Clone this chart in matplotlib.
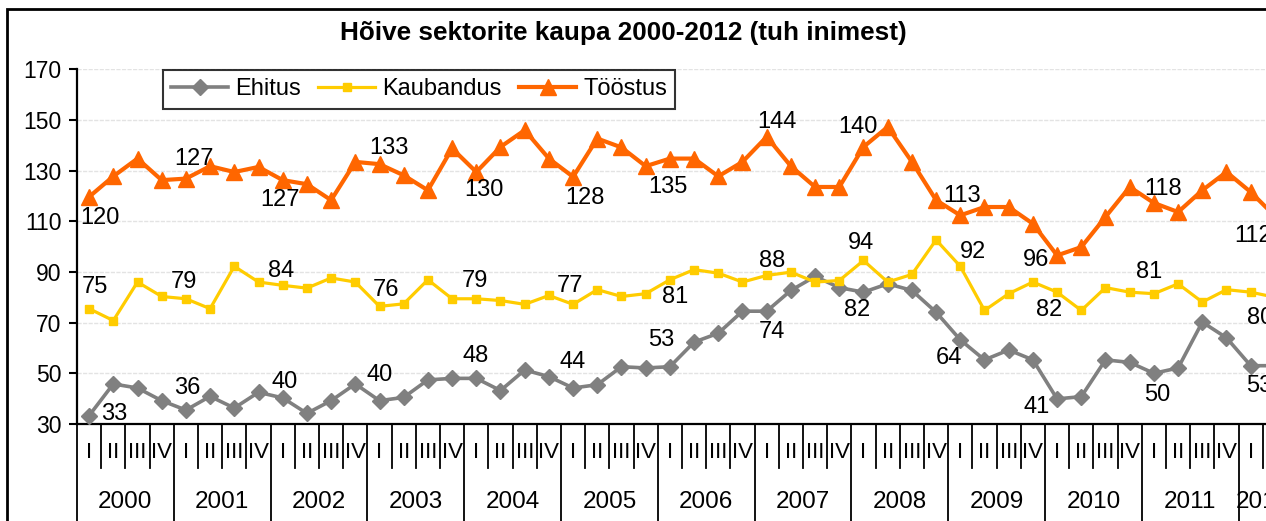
import matplotlib
matplotlib.use("Agg")
import matplotlib.pyplot as plt
import matplotlib.transforms as mtransforms
from matplotlib.patches import Rectangle

plt.rcParams['font.family'] = ['Liberation Sans', 'DejaVu Sans']

# ---------------- data ----------------
years = ["2000", "2001", "2002", "2003", "2004", "2005", "2006",
         "2007", "2008", "2009", "2010", "2011", "2012"]
quarters = ["I", "II", "III", "IV"]

ehitus = [33.3, 45.8, 44.2, 39.2, 35.5, 40.9, 36.3, 42.5, 40.3, 34.2,
          39.2, 45.8, 39.2, 40.5, 47.4, 48.0, 48.0, 43.2, 51.3, 48.7,
          44.2, 45.5, 52.6, 52.1, 52.6, 62.3, 65.8, 74.5, 74.5, 82.7,
          88.2, 83.8, 82.0, 85.3, 82.7, 74.1, 63.2, 55.3, 59.2, 55.3,
          39.9, 40.8, 55.3, 54.3, 50.0, 52.1, 70.2, 64.0, 53.0, 53.0]
kaubandus = [75.5, 70.8, 86.0, 80.3, 79.4, 75.5, 92.2, 86.0, 84.7, 83.6,
             87.6, 86.0, 76.4, 77.4, 86.9, 79.4, 79.4, 78.7, 77.2, 80.7,
             77.2, 83.0, 80.3, 81.4, 86.9, 90.9, 89.5, 86.0, 88.6, 89.9,
             86.0, 86.6, 94.5, 86.0, 89.0, 102.6, 92.2, 74.8, 81.4, 86.0,
             82.0, 74.8, 83.8, 82.0, 81.4, 85.3, 78.1, 83.0, 82.0, 80.0]
toostus = [119.6, 127.7, 134.7, 126.2, 126.8, 131.7, 129.4, 131.4, 126.2, 124.6,
           118.3, 133.4, 132.5, 128.1, 122.2, 138.7, 129.4, 139.3, 145.9, 134.7,
           127.5, 142.6, 139.1, 131.7, 134.7, 134.7, 127.7, 133.4, 143.3, 131.7,
           123.5, 123.5, 139.3, 147.2, 133.4, 118.3, 112.3, 115.6, 115.6, 109.0,
           96.5, 99.8, 111.7, 123.5, 117.2, 113.6, 122.2, 129.4, 121.5, 112.0]

# data labels: (point index, text)
ehitus_labels = [(0, "33"), (4, "36"), (8, "40"), (12, "40"), (16, "48"), (20, "44"),
                 (24, "53"), (28, "74"), (32, "82"), (36, "64"), (40, "41"),
                 (44, "50"), (48, "53")]
kaubandus_labels = [(0, "75"), (4, "79"), (8, "84"), (12, "76"), (16, "79"), (20, "77"),
                    (24, "81"), (28, "88"), (32, "94"), (36, "92"), (40, "82"),
                    (44, "81"), (49, "80")]
toostus_labels = [(0, "120"), (4, "127"), (8, "127"), (12, "133"), (16, "130"),
                  (20, "128"), (24, "135"), (28, "144"), (32, "140"), (36, "113"),
                  (40, "96"), (44, "118"), (49, "112")]

# ---------------- style / layout ----------------
# label offsets in pixels (dx right, dy up)
ehitus_off = [(25, 2), (1, 22), (2, 16), (0, 26), (-1, 22), (0, 26), (-9, 27),
              (5, -21), (-6, -18), (-11, -18), (-20, -8), (3, -22), (9, -20)]
kaubandus_off = [(6, 22), (-2, 17), (-2, 14), (7, 16), (-1, 18), (-3, 18), (5, -17),
                 (5, 14), (-2, 17), (13, 14), (-8, -18), (-5, 22), (-15, -21)]
toostus_off = [(11, -21), (8, 20), (-3, -20), (9, 16), (8, -18), (12, -21), (-2, -28),
               (10, 15), (-6, 20), (2, 19), (-21, -5), (9, 14), (-22, -20)]

W, H = 1266, 521
fig = plt.figure(figsize=(W / 100, H / 100), dpi=100)

ax_left, ax_bottom_px, ax_top_px = 77, 424, 69.1
qw = 24.2
n = len(toostus)
ax = fig.add_axes([ax_left / W, (H - ax_bottom_px) / H,
                   n * qw / W, (ax_bottom_px - ax_top_px) / H])

x = list(range(n))
c_e, c_k, c_t = "#808080", "#FFCC00", "#FF6600"
l_e, = ax.plot(x, ehitus, color=c_e, lw=2.6, marker="D", ms=8, zorder=3,
               label="Ehitus")
l_k, = ax.plot(x, kaubandus, color=c_k, lw=2.3, marker="s", ms=6, zorder=4,
               label="Kaubandus")
l_t, = ax.plot(x, toostus, color=c_t, lw=3.0, marker="^", ms=11, zorder=5,
               label="Tööstus")

fs_lab = 17
for labels, offs, vals in ((ehitus_labels, ehitus_off, ehitus),
                           (kaubandus_labels, kaubandus_off, kaubandus),
                           (toostus_labels, toostus_off, toostus)):
    for (i, t), (dx, dy) in zip(labels, offs):
        ax.annotate(t, (i, vals[i]), xytext=(dx, dy), textcoords="offset pixels",
                    ha="center", va="center", fontsize=fs_lab, color="black",
                    zorder=6, annotation_clip=False)

ax.set_xlim(-0.5, n - 0.5)
ax.set_ylim(30, 170)
ax.set_yticks(range(30, 171, 20))
ax.tick_params(axis="y", direction="out", length=6, width=1.5, labelsize=16.5, pad=5)
ax.set_xticks([])
for s in ("top", "right"):
    ax.spines[s].set_visible(False)
for s in ("left", "bottom"):
    ax.spines[s].set_linewidth(1.6)
ax.yaxis.grid(True, color="#E3E3E3", lw=1.0, linestyle=(0, (3, 1)))
ax.set_axisbelow(True)

# multi-level category axis
trans = mtransforms.blended_transform_factory(ax.transData, ax.transAxes)
ax_h = ax_bottom_px - ax_top_px
q_end = -(468 - ax_bottom_px) / ax_h
y_end = -(540 - ax_bottom_px) / ax_h
q_lab = -(453 - ax_bottom_px) / ax_h
y_lab = -(502 - ax_bottom_px) / ax_h
for j in range(n + 1):
    xb = j - 0.5
    yb = y_end if (j % 4 == 0 or j == n) else q_end
    ax.plot([xb, xb], [0, yb], color="black", lw=1.3, transform=trans,
            clip_on=False, zorder=7)
for i in range(n):
    ax.text(i, q_lab, quarters[i % 4], transform=trans, ha="center", va="center",
            fontsize=16, clip_on=False)
for yi, yname in enumerate(years):
    start = yi * 4
    end = min(start + 3, n - 1)
    ax.text((start + end) / 2, y_lab, yname, transform=trans, ha="center",
            va="center", fontsize=17.5, clip_on=False)

# title
fig.text(623 / W, 1 - 33 / H, "Hõive sektorite kaupa 2000-2012 (tuh inimest)",
         ha="center", va="center", fontsize=18.8, fontweight="bold")

# legend
leg = fig.legend(handles=[l_e, l_k, l_t], loc="upper left",
                 bbox_to_anchor=(163 / W, 1 - 70 / H), ncol=3, fontsize=17,
                 frameon=True, fancybox=False, edgecolor="black",
                 handlelength=2.4, handletextpad=0.3, columnspacing=0.75,
                 borderpad=0.35, borderaxespad=0)
leg.get_frame().set_linewidth(1.5)

# outer chart border
fig.patches.append(Rectangle((7 / W, -0.2), 1.5, 1.2 - 9 / H, transform=fig.transFigure,
                             fill=False, edgecolor="black", lw=2.0, zorder=10))

fig.savefig("out.png", dpi=100)
